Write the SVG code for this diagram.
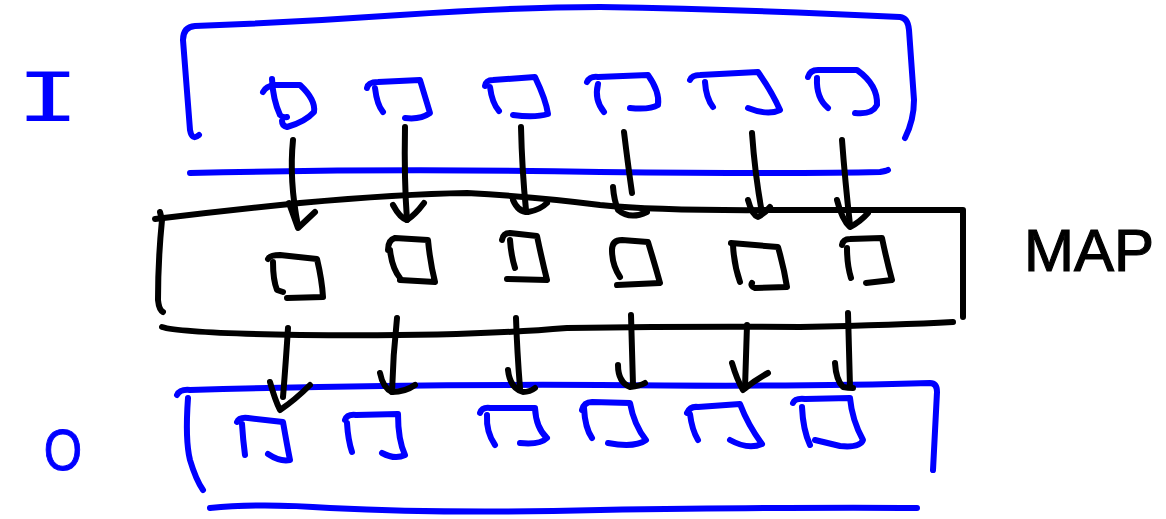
<svg xmlns="http://www.w3.org/2000/svg" width="1166" height="519" viewBox="0 0 1166 519">
  <style>
    .ink{fill:none;stroke-width:6;stroke-linecap:round;stroke-linejoin:round}
    .blue{stroke:#0000ff}
    .black{stroke:#000}
    .lbl{font-family:"Liberation Sans",Arial,sans-serif}
    .mono{font-family:"DejaVu Sans Mono","Liberation Mono",monospace}
  </style>
  <rect width="1166" height="519" fill="#fff"/>

  <!-- Input stage -->
  <g id="input">
    <text class="mono" transform="translate(48,121) scale(1.55,1)" text-anchor="middle" font-size="68" fill="#0000ff">I</text>
    <path class="ink blue" d="M199,135 Q192,141 190,130 L183,40 Q183,27 195,26 Q300,22 400,15 Q520,7 600,7 Q760,10 900,17 Q908,18 909,30 L914,100 Q914,120 905,138"/>
    <path class="ink blue" d="M190,173 Q400,168 600,172 Q800,174 880,172 Q886,171 888,170"/>
    <g id="in1"><path class="ink blue" d="M263,92 Q266,86 275,85 L300,85 Q316,100 314,112 Q305,122 287,127 Q282,126 282,121"/><path class="ink blue" d="M272,79 Q273,100 280,115 Q283,118 287,117"/></g>
    <g id="in2"><path class="ink blue" d="M367,88 Q368,82 378,82 L420,80 Q426,100 430,113 Q420,120 405,118"/><path class="ink blue" d="M375,88 Q377,105 383,112"/></g>
    <g id="in3"><path class="ink blue" d="M485,86 Q486,80 493,80 L535,77 Q546,100 548,114 Q535,118 513,115"/><path class="ink blue" d="M490,87 Q492,103 499,111"/></g>
    <g id="in4"><path class="ink blue" d="M587,82 Q590,76 598,77 L648,75 Q660,92 658,105 Q650,110 630,108"/><path class="ink blue" d="M598,84 Q594,100 604,112"/></g>
    <g id="in5"><path class="ink blue" d="M690,80 Q692,75 700,75 L758,72 Q772,92 780,110 Q768,116 748,108"/><path class="ink blue" d="M705,82 Q706,98 713,107"/></g>
    <g id="in6"><path class="ink blue" d="M808,77 Q810,70 818,70 L857,70 Q878,85 877,105 Q872,115 855,113"/><path class="ink blue" d="M817,78 Q816,98 828,108"/></g>
  </g>

  <!-- Map stage -->
  <g id="map">
    <text class="lbl" x="1024" y="271" font-size="60" fill="#000" stroke="#000" stroke-width="1.2">MAP</text>
    <path class="ink black" d="M155,219 Q230,210 300,203 Q400,194 467,193 Q540,197 600,205 Q660,211 780,210 L963,210 L963,317"/>
    <path class="ink black" d="M160,212 L162,220 Q158,260 158,300 Q159,310 163,312"/>
    <path class="ink black" d="M162,327 Q180,333 300,335 Q460,337 567,328 Q700,326 800,327 Q900,325 953,322"/>
    <g id="m1"><path class="ink black" d="M268,259 Q270,255 280,255 L317,259 Q322,280 323,297 L287,298"/><path class="ink black" d="M273,262 Q273,280 277,290 L283,292"/></g>
    <g id="m2"><path class="ink black" d="M388,250 Q388,240 395,238 L428,240 Q430,262 435,282 L400,280"/><path class="ink black" d="M390,250 Q392,268 400,278"/></g>
    <g id="m3"><path class="ink black" d="M502,240 Q503,233 510,233 L537,236 Q542,260 547,280 L507,279"/><path class="ink black" d="M510,240 Q511,255 515,268"/></g>
    <g id="m4"><path class="ink black" d="M612,250 Q612,240 622,240 L648,242 Q655,265 660,283 L617,285"/><path class="ink black" d="M612,250 Q612,265 620,277"/></g>
    <g id="m5"><path class="ink black" d="M731,243 L778,247 Q784,268 787,287 L755,288 Q750,286 752,283"/><path class="ink black" d="M733,245 Q734,265 740,282"/></g>
    <g id="m6"><path class="ink black" d="M842,245 Q843,239 850,239 L882,238 Q887,262 892,280 L866,283"/><path class="ink black" d="M847,248 Q847,265 851,278"/></g>
  </g>

  <!-- Output stage -->
  <g id="output">
    <text class="lbl" transform="translate(63,470) scale(0.85,1)" text-anchor="middle" font-size="58" fill="#0000ff" stroke="#0000ff" stroke-width="1">O</text>
    <path class="ink blue" d="M177,395 Q180,389 190,390 Q400,384 600,385 Q800,387 930,383 Q937,383 937,392 L933,470"/>
    <path class="ink blue" d="M188,398 Q185,440 190,460 Q196,480 203,490"/>
    <path class="ink blue" d="M210,508 Q260,503 330,508 Q450,514 600,510 Q800,507 917,508"/>
    <g id="o1"><path class="ink blue" d="M237,422 Q239,417 248,418 L283,422 Q287,445 290,460 Q280,462 268,454"/><path class="ink blue" d="M242,424 Q243,440 245,455"/></g>
    <g id="o2"><path class="ink blue" d="M345,420 Q347,414 356,415 L398,414 Q398,440 405,455 Q395,460 382,453"/><path class="ink blue" d="M347,423 Q348,440 352,452"/></g>
    <g id="o3"><path class="ink blue" d="M480,413 Q482,407 490,408 L535,408 Q536,428 547,438 Q540,445 520,443"/><path class="ink blue" d="M487,415 Q486,432 495,445"/></g>
    <g id="o4"><path class="ink blue" d="M582,410 Q584,402 592,402 L630,403 Q634,425 646,440 Q635,448 608,443"/><path class="ink blue" d="M584,408 Q585,428 592,438"/></g>
    <g id="o5"><path class="ink blue" d="M687,413 Q690,406 698,407 L740,404 Q748,425 762,444 Q748,450 730,440"/><path class="ink blue" d="M690,414 Q692,430 698,440"/></g>
    <g id="o6"><path class="ink blue" d="M793,403 Q795,398 805,399 L850,398 Q852,420 863,440 Q860,448 840,446 L815,440"/><path class="ink blue" d="M802,407 Q803,430 810,445"/></g>
  </g>

  <!-- Arrows: input to map, map to output -->
  <g id="connectors" class="ink black">
    <path d="M293,140 Q289,180 298,226"/><path d="M289,203 L298,228 L315,212"/>
    <path d="M405,127 Q404,180 407,220"/><path d="M393,205 Q400,218 407,220 Q415,215 424,203"/>
    <path d="M521,127 Q522,170 526,210"/><path d="M513,200 Q518,212 528,212 Q540,210 547,203"/>
    <path d="M624,132 Q628,165 632,193"/><path d="M613,187 Q614,200 618,210 Q630,220 647,212"/>
    <path d="M752,133 Q755,175 762,213"/><path d="M748,200 Q752,215 758,217 Q765,213 770,207"/>
    <path d="M842,140 Q845,180 850,225"/><path d="M837,200 Q842,220 850,227 Q860,222 868,213"/>

    <path d="M288,328 Q286,360 283,397"/><path d="M270,382 Q275,400 280,410 Q295,400 310,385"/>
    <path d="M397,318 Q393,355 392,392"/><path d="M380,373 Q383,388 392,392 Q405,392 415,385"/>
    <path d="M516,318 Q517,350 520,388"/><path d="M508,370 Q510,388 523,392 Q530,392 535,388"/>
    <path d="M631,315 Q632,350 633,385"/><path d="M618,365 Q618,382 630,387 Q640,386 645,383"/>
    <path d="M747,325 Q746,355 745,388"/><path d="M732,363 Q737,380 743,390 Q755,380 768,373"/>
    <path d="M848,313 Q849,350 850,387"/><path d="M835,363 Q836,380 843,387 Q848,388 853,388"/>
  </g>
</svg>
